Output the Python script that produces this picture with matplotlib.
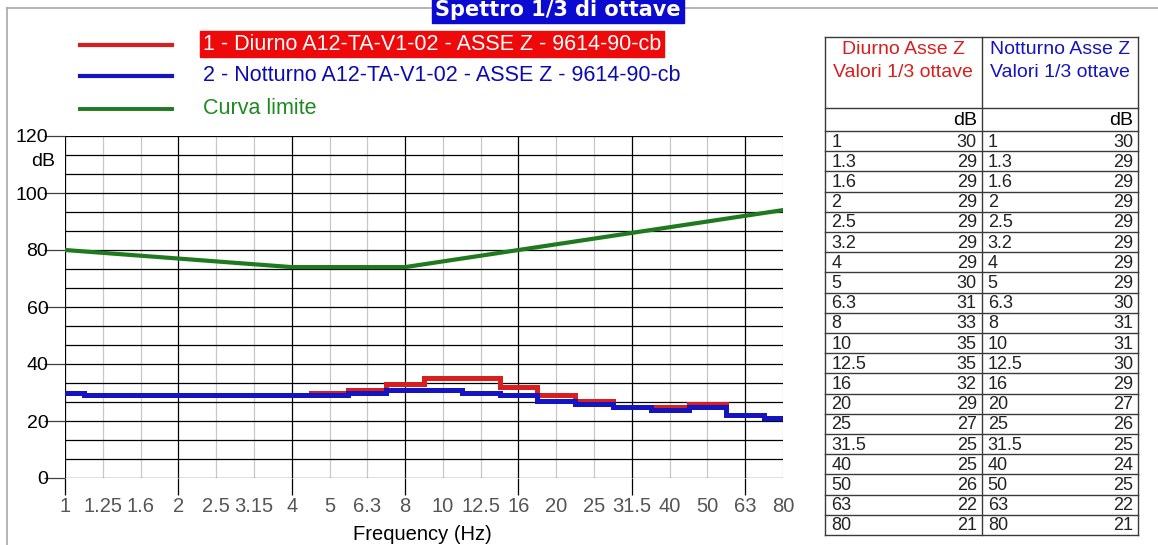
import matplotlib
matplotlib.use("Agg")
import matplotlib.pyplot as plt
from matplotlib.lines import Line2D
from matplotlib.ticker import FixedLocator, FixedFormatter

# Third-octave bands (Hz)
band_labels = ["1", "1.25", "1.6", "2", "2.5", "3.15", "4", "5", "6.3", "8",
               "10", "12.5", "16", "20", "25", "31.5", "40", "50", "63", "80"]
table_labels = ["1", "1.3", "1.6", "2", "2.5", "3.2", "4", "5", "6.3", "8",
                "10", "12.5", "16", "20", "25", "31.5", "40", "50", "63", "80"]

# Measured levels, dB
diurno = [30, 29, 29, 29, 29, 29, 29, 30, 31, 33,
          35, 35, 32, 29, 27, 25, 25, 26, 22, 21]
notturno = [30, 29, 29, 29, 29, 29, 29, 29, 30, 31,
            31, 30, 29, 27, 26, 25, 24, 25, 22, 21]
# Limit curve, dB
limite = [80, 79, 78, 77, 76, 75, 74, 74, 74, 74,
          76, 78, 80, 82, 84, 86, 88, 90, 92, 94]

legend_entries = ["1 - Diurno A12-TA-V1-02 - ASSE Z - 9614-90-cb",
                  "2 - Notturno A12-TA-V1-02 - ASSE Z - 9614-90-cb",
                  "Curva limite"]
title = "Spettro 1/3 di ottave"

RED = "#d81e1e"
BLUE = "#1414c0"
GREEN = "#1f7a1f"
NARROW = ["Liberation Sans Narrow", "Liberation Sans", "DejaVu Sans"]
SANS = ["Liberation Sans", "DejaVu Sans"]

W, H = 1158, 545
fig = plt.figure(figsize=(W / 100, H / 100), dpi=100)
fig.patch.set_facecolor("white")


def fx(px):
    return px / W


def fy(py):
    return 1 - py / H


# Outer frame (top and left edges)
fig.add_artist(Line2D([fx(7), 1], [fy(8), fy(8)], color="#a8a8a8", lw=1.2))
fig.add_artist(Line2D([fx(7), fx(7)], [fy(8), 0], color="#a8a8a8", lw=1.2))

# Title box
fig.text(fx(558), fy(10), title, ha="center", va="center", color="white",
         fontsize=15, fontweight="bold", family=["DejaVu Sans"],
         bbox=dict(boxstyle="square,pad=0.15", fc="#0a0ad0", ec="#0a0ad0"))

# ---- Main chart ----
ax = fig.add_axes([fx(65), fy(478), fx(783 - 65), (478 - 136) / H])
x = list(range(len(band_labels)))

ax.plot(x, diurno, drawstyle="steps-mid", color=RED, lw=3.6,
        solid_joinstyle="miter", zorder=3)
ax.plot(x, notturno, drawstyle="steps-mid", color=BLUE, lw=3.6,
        solid_joinstyle="miter", zorder=4)
ax.plot(x, limite, color=GREEN, lw=3.0, zorder=5)

ax.set_xlim(0, len(band_labels) - 1)
ax.set_ylim(0, 120)

octave_idx = [i for i in x if i % 3 == 0]
other_idx = [i for i in x if i % 3 != 0]
ax.xaxis.set_major_locator(FixedLocator(octave_idx))
ax.xaxis.set_major_formatter(FixedFormatter([band_labels[i] for i in octave_idx]))
ax.xaxis.set_minor_locator(FixedLocator(other_idx))
ax.xaxis.set_minor_formatter(FixedFormatter([band_labels[i] for i in other_idx]))

ax.yaxis.set_major_locator(FixedLocator(list(range(0, 121, 20))))
ax.yaxis.set_minor_locator(FixedLocator([k * 20 / 3 for k in range(19) if k % 3 != 0]))

ax.grid(which="major", axis="x", color="black", lw=0.9)
ax.grid(which="minor", axis="x", color="#c8c8c8", lw=0.9)
ax.grid(which="both", axis="y", color="black", lw=0.9)
ax.set_axisbelow(True)
for s in ax.spines.values():
    s.set_visible(False)

ax.tick_params(axis="x", which="major", length=12, width=0.9, color="black",
               pad=2, labelcolor="#555555")
ax.tick_params(axis="x", which="minor", length=0, pad=14, labelcolor="#555555")
ax.tick_params(axis="y", which="major", length=15, width=0.9, color="#404040",
               pad=-3, labelcolor="black")
ax.tick_params(axis="y", which="minor", length=0)
for lab in ax.get_xticklabels(which="both"):
    lab.set_family(NARROW)
    lab.set_fontsize(14.5)
for lab in ax.get_yticklabels():
    lab.set_family(SANS)
    lab.set_fontsize(14)

# Axis captions
fig.text(fx(422), fy(534), "Frequency (Hz)", ha="center", va="center",
         fontsize=14.5, family=SANS)
fig.text(fx(43), fy(162), "dB", ha="center", va="center", fontsize=14, family=SANS)

# ---- Legend ----
legend_colors = [RED, BLUE, GREEN]
legend_y = [45, 76, 109]
for label, col, yy in zip(legend_entries, legend_colors, legend_y):
    fig.add_artist(Line2D([fx(80), fx(172)], [fy(yy), fy(yy)], color=col,
                          lw=3.0 if col != GREEN else 2.8))
    if col == RED:
        fig.text(fx(203), fy(yy - 1), label, ha="left", va="center", fontsize=15.5,
                 family=SANS, color="white",
                 bbox=dict(boxstyle="square,pad=0.12", fc="#ee0a0a", ec="#ee0a0a"))
    else:
        fig.text(fx(203), fy(yy - 1), label, ha="left", va="center", fontsize=15.5,
                 family=SANS, color="#0a0ab4" if col == BLUE else "#1f8a1f")

# ---- Value table ----
tx0, tx1, ty0, ty1 = 825, 1138, 37, 535
tax = fig.add_axes([fx(tx0), fy(ty1), fx(tx1 - tx0), (ty1 - ty0) / H])
head_h, db_h = 3.5, 1.15
n = len(table_labels)
total = head_h + db_h + n
tax.set_xlim(0, 2)
tax.set_ylim(total, 0)
tax.axis("off")

lc = "#3a3a3a"
for xv in (0, 1, 2):
    tax.plot([xv, xv], [0, total], color=lc, lw=1.0, clip_on=False)
row_lines = [0, head_h, head_h + db_h] + [head_h + db_h + i + 1 for i in range(n)]
for yv in row_lines:
    tax.plot([0, 2], [yv, yv], color=lc, lw=1.0, clip_on=False)

col_titles = [("Diurno Asse Z", "#d81e1e"), ("Notturno Asse Z", "#1414c0")]
for c, (name, col) in enumerate(col_titles):
    tax.text(c + 0.5, 0.6, name, ha="center", va="center", color=col,
             fontsize=14, family=SANS)
    tax.text(c + 0.5, 1.75, "Valori 1/3 ottave", ha="center", va="center",
             color=col, fontsize=14, family=SANS)
    tax.text(c + 0.97, head_h + db_h / 2 + 0.05, "dB", ha="right", va="center",
             fontsize=14, family=SANS)

for c, vals in enumerate([diurno, notturno]):
    for i, (lab, v) in enumerate(zip(table_labels, vals)):
        yc = head_h + db_h + i + 0.55
        tax.text(c + 0.04, yc, lab, ha="left", va="center", fontsize=13,
                 family=NARROW, color="#222222")
        tax.text(c + 0.97, yc, str(v), ha="right", va="center", fontsize=13,
                 family=NARROW, color="#222222")

fig.savefig("out.png", dpi=100, facecolor="white")
